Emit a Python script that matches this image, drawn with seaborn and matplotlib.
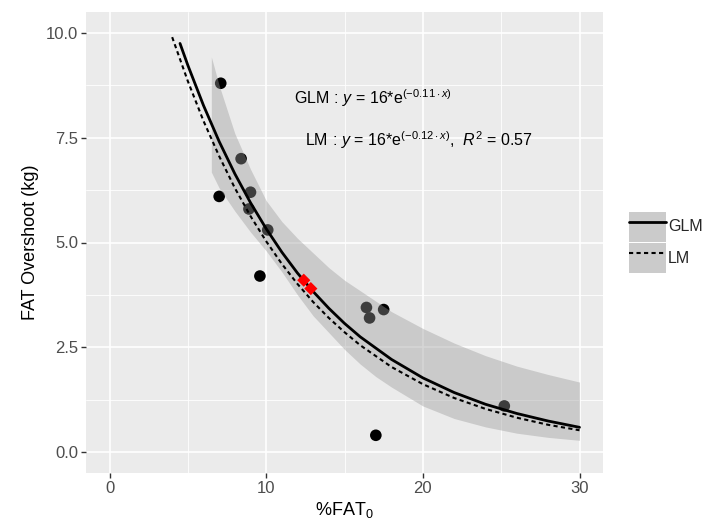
import matplotlib
matplotlib.use("Agg")
import matplotlib.pyplot as plt
from matplotlib.lines import Line2D
from matplotlib.patches import Patch
from matplotlib.ticker import MultipleLocator
import seaborn as sns

fat0 = [7.1, 7.0, 8.4, 9.0, 8.9, 9.6, 10.1, 16.4, 16.6, 17.5, 17.0, 25.2]
overshoot = [8.8, 6.1, 7.0, 6.2, 5.8, 4.2, 5.3, 3.45, 3.2, 3.4, 0.4, 1.1]
red_fat0 = [12.4, 12.85]
red_overshoot = [4.1, 3.9]

# GLM curve
glm_x = [4.5, 5, 6, 7, 8, 9, 10, 11, 12, 13, 14, 15, 16, 18, 20, 22, 24, 26, 28, 30]
glm_y = [9.75, 9.23, 8.27, 7.41, 6.64, 5.95, 5.33, 4.77, 4.27, 3.83, 3.43, 3.07,
         2.75, 2.21, 1.77, 1.42, 1.14, 0.92, 0.74, 0.59]

# LM curve
lm_x = [4.0, 5, 6, 7, 8, 9, 10, 11, 12, 13, 14, 15, 16, 18, 20, 22, 24, 26, 28, 30]
lm_y = [9.90, 8.85, 7.90, 7.06, 6.30, 5.63, 5.03, 4.49, 4.01, 3.58, 3.20, 2.86,
        2.55, 2.03, 1.62, 1.29, 1.03, 0.82, 0.65, 0.52]

# confidence band
band_x = [6.5, 7, 8, 9, 10, 11, 12, 13, 14, 15, 16, 17, 18, 20, 22, 24, 26, 28, 30]
band_hi = [9.43, 8.75, 7.6, 6.75, 6.0, 5.5, 5.1, 4.75, 4.4, 4.1, 3.85, 3.6, 3.35,
           2.95, 2.6, 2.3, 2.05, 1.85, 1.67]
band_lo = [6.68, 6.3, 5.75, 5.25, 4.8, 4.3, 3.75, 3.25, 2.85, 2.45, 2.1, 1.8, 1.55,
           1.1, 0.8, 0.6, 0.45, 0.35, 0.28]

glm_text = r"GLM$\,:\,y$ = 16*e$^{(\mathregular{-0.11}\cdot x)}$"
lm_text = r"LM$\,:\,y$ = 16*e$^{(\mathregular{-0.12}\cdot x)}$,  $R^2$ = 0.57"

sns.set_theme(style="darkgrid", rc={
    "axes.facecolor": "#EBEBEB",
    "grid.color": "white",
    "axes.edgecolor": "none",
})
plt.rcParams["font.family"] = ["Liberation Sans", "DejaVu Sans"]
plt.rcParams["mathtext.fontset"] = "custom"
plt.rcParams["mathtext.rm"] = "Liberation Sans"
plt.rcParams["mathtext.it"] = "Liberation Sans:italic"

fig = plt.figure(figsize=(7.02, 5.24), dpi=100)
ax = fig.add_axes([86 / 702, 1 - 473 / 524, 517 / 702, 461 / 524])

sns.scatterplot(x=fat0, y=overshoot, ax=ax, color="black", s=70, edgecolor="none", zorder=2)
ax.fill_between(band_x, band_lo, band_hi, color="#999999", alpha=0.4, lw=0, zorder=3)
sns.lineplot(x=glm_x, y=glm_y, ax=ax, color="black", lw=2.0, zorder=4)
sns.lineplot(x=lm_x, y=lm_y, ax=ax, color="black", lw=1.5, zorder=4,
             linestyle=(0, (2, 1.6)))
sns.scatterplot(x=red_fat0, y=red_overshoot, ax=ax, color="red", marker="D", s=45,
                edgecolor="none", zorder=5)

ax.text(11.8, 8.45, glm_text, fontsize=11.5, va="center", ha="left", color="black")
ax.text(12.5, 7.45, lm_text, fontsize=11.5, va="center", ha="left", color="black")

ax.set_xlim(-1.5, 31.5)
ax.set_ylim(-0.5, 10.5)
ax.xaxis.set_major_locator(MultipleLocator(10))
ax.xaxis.set_minor_locator(MultipleLocator(5))
ax.yaxis.set_major_locator(MultipleLocator(2.5))
ax.yaxis.set_minor_locator(MultipleLocator(1.25))
ax.set_yticks([0, 2.5, 5, 7.5, 10], ["0.0", "2.5", "5.0", "7.5", "10.0"])
ax.grid(which="major", color="white", lw=1.2)
ax.grid(which="minor", color="white", lw=0.6)
ax.tick_params(which="major", length=3.5, width=1, color="#333333", labelcolor="#4D4D4D",
               labelsize=12, bottom=True, left=True, pad=2)
ax.tick_params(which="minor", length=0)
for s in ax.spines.values():
    s.set_visible(False)

ax.set_xlabel(r"%FAT$_0$", fontsize=13, color="black", labelpad=3)
ax.set_ylabel("FAT Overshoot (kg)", fontsize=13, color="black", labelpad=5)

key = "#CBCBCB"
h_glm = (Patch(facecolor=key, edgecolor="none"), Line2D([], [], color="black", lw=2.0))
h_lm = (Patch(facecolor=key, edgecolor="none"),
        Line2D([], [], color="black", lw=1.5, linestyle=(0, (2, 1.6))))
ax.legend([h_glm, h_lm], ["GLM", "LM"], loc="center left", bbox_to_anchor=(1.05, 0.5),
          frameon=False, handlelength=2.3, handleheight=2.5, handletextpad=0.15,
          labelspacing=0.12, fontsize=11.5, borderpad=0, borderaxespad=0)

fig.savefig("out.png", dpi=100)
